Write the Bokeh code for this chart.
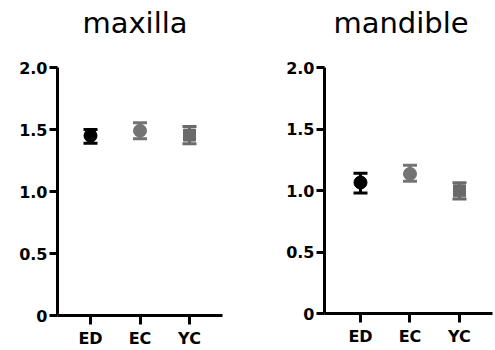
from bokeh.plotting import figure
from bokeh.layouts import row, column
from bokeh.models import Range1d, FixedTicker, ColumnDataSource, Div
from bokeh.embed import file_html
from bokeh.resources import INLINE

groups = ["ED", "EC", "YC"]
maxilla_mean = [1.45, 1.49, 1.455]
maxilla_low = [1.39, 1.425, 1.385]
maxilla_high = [1.50, 1.555, 1.525]
mandible_mean = [1.065, 1.135, 0.997]
mandible_low = [0.98, 1.075, 0.93]
mandible_high = [1.14, 1.205, 1.063]
colors = ["#000000", "#747474", "#6a6a6a"]
markers = ["circle", "circle", "square"]
marker_sizes = [13, 13, 12]
yticks = [0, 0.5, 1.0, 1.5, 2.0]
ytick_labels = ["0", "0.5", "1.0", "1.5", "2.0"]

FONT = "DejaVu Sans"
TITLE_H = 50


def make_title(text, width, center_x):
    html = ('<div style="position:absolute;left:%dpx;top:9px;transform:translateX(-50%%);'
            'white-space:nowrap;font-family:\'DejaVu Sans\';font-size:29px;line-height:1;'
            'color:#000000;">%s</div>') % (center_x, text)
    return Div(text=html, width=width, height=TITLE_H, margin=0)


def make_panel(mean, low, high, width, border_left, border_right, frame_w, frame_h,
               x_start, x_end):
    xs = list(range(len(groups)))
    src = ColumnDataSource(dict(x=xs, mean=mean, low=low, high=high,
                                color=colors, marker=markers, size=marker_sizes))
    p = figure(width=width, height=348 - TITLE_H, output_backend="svg", toolbar_location=None,
               x_range=Range1d(x_start, x_end), y_range=Range1d(0, 2.0),
               frame_width=frame_w, frame_height=frame_h,
               min_border_left=border_left, min_border_right=border_right,
               min_border_top=67 - TITLE_H, min_border_bottom=0, margin=0)
    p.outline_line_color = None
    p.grid.visible = False
    p.background_fill_color = "white"
    p.border_fill_color = "white"

    p.segment(x0="x", y0="low", x1="x", y1="high", line_color="color", line_width=3, source=src)
    p.scatter(x="x", y="low", marker="dash", size=14, line_width=3, line_color="color", source=src)
    p.scatter(x="x", y="high", marker="dash", size=14, line_width=3, line_color="color", source=src)
    p.scatter(x="x", y="mean", marker="marker", size="size", fill_color="color",
              line_color="color", source=src)

    for ax in (p.xaxis[0], p.yaxis[0]):
        ax.axis_line_width = 3
        ax.axis_line_color = "black"
        ax.major_tick_line_width = 3
        ax.major_tick_line_color = "black"
        ax.major_tick_in = 0
        ax.minor_tick_line_color = None
        ax.major_label_text_font = FONT
        ax.major_label_text_font_style = "bold"
        ax.major_label_text_font_size = "16px"
        ax.major_label_text_color = "black"

    p.xaxis.ticker = FixedTicker(ticks=xs)
    p.xaxis.major_label_overrides = {i: g for i, g in zip(xs, groups)}
    p.xaxis.major_tick_out = 9
    p.xaxis.major_label_standoff = 4

    p.yaxis.ticker = FixedTicker(ticks=yticks)
    p.yaxis.major_label_overrides = {t: l for t, l in zip(yticks, ytick_labels)}
    p.yaxis.major_tick_out = 8
    p.yaxis.major_label_standoff = 2
    return p


t1 = make_title("maxilla", 250, 135)
p1 = make_panel(maxilla_mean, maxilla_low, maxilla_high,
                250, 57, 28, 165, 248, -0.667, 2.667)
t2 = make_title("mandible", 244, 151)
p2 = make_panel(mandible_mean, mandible_low, mandible_high,
                244, 74, 2, 168, 246, -0.727, 2.667)

layout = row(column(t1, p1, spacing=0, margin=0), column(t2, p2, spacing=0, margin=0),
             spacing=0, margin=0)
open("out.html", "w").write(file_html(layout, INLINE))
